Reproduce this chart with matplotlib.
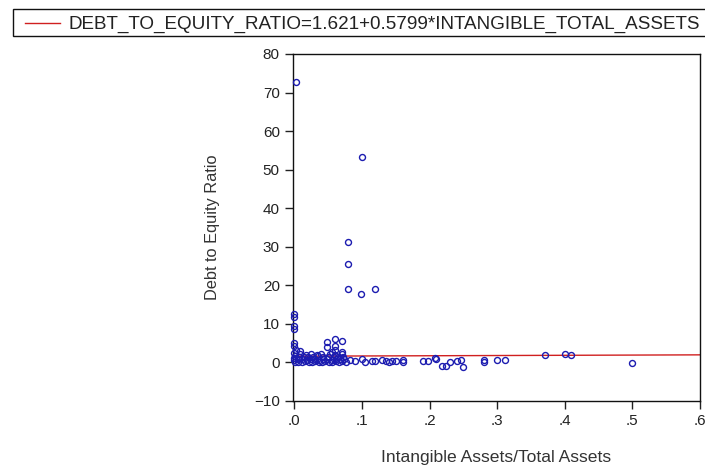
import matplotlib.pyplot as plt
from matplotlib.lines import Line2D
from matplotlib.patches import Rectangle

# intangible assets / total assets  vs  debt to equity ratio
intangible = [
    0.002, 0.000, 0.000, 0.000, 0.000, 0.000, 0.000, 0.002, 0.000, 0.001, 0.000, 0.000, 0.001,
    0.006, 0.011, 0.016, 0.021, 0.026, 0.031, 0.036, 0.041, 0.046, 0.051, 0.056, 0.061, 0.066, 0.071, 0.076,
    0.005, 0.012, 0.018, 0.024, 0.030, 0.037, 0.043, 0.049, 0.055, 0.062, 0.068, 0.074,
    0.007, 0.014, 0.020, 0.028, 0.035, 0.042, 0.050, 0.058, 0.065, 0.072,
    0.008, 0.017, 0.025, 0.033, 0.040, 0.052, 0.060, 0.070,
    0.048, 0.060, 0.071, 0.048, 0.060, 0.060, 0.055, 0.070, 0.009,
    0.100, 0.079, 0.079, 0.079, 0.099, 0.119,
    0.083, 0.090, 0.100, 0.105, 0.115, 0.120, 0.130, 0.140, 0.145, 0.150, 0.160, 0.160, 0.135,
    0.190, 0.198, 0.208, 0.210, 0.218, 0.225, 0.230, 0.240, 0.247, 0.249,
    0.280, 0.280, 0.300, 0.311, 0.370, 0.400, 0.409, 0.500,
]
debt_equity = [
    72.8, 12.5, 11.8, 9.4, 8.6, 5.0, 4.2, 3.1, 2.4, 1.8, 1.2, 0.6, 0.1,
    0.2, 0.1, 0.3, 0.2, 0.1, 0.3, 0.2, 0.1, 0.3, 0.2, 0.1, 0.3, 0.2, 0.4, 0.1,
    0.8, 0.9, 0.7, 0.8, 0.9, 0.7, 0.8, 0.9, 0.7, 0.8, 0.9, 0.8,
    1.4, 1.5, 1.3, 1.4, 1.6, 1.3, 1.5, 1.4, 1.3, 1.5,
    2.1, 2.0, 2.2, 1.9, 2.1, 2.3, 2.0, 2.1,
    5.3, 6.1, 5.6, 4.0, 4.2, 3.2, 2.8, 2.6, 2.9,
    53.2, 31.2, 25.6, 19.1, 17.7, 19.1,
    0.6, 0.3, 0.8, 0.2, 0.5, 0.3, 0.6, 0.2, 0.5, 0.3, 0.6, 0.1, 0.4,
    0.3, 0.4, 1.2, 1.0, -1.0, -1.0, 0.0, 0.5, 0.7, -1.2,
    0.6, 0.0, 0.7, 0.7, 2.0, 2.3, 2.0, -0.1,
]

intercept = 1.621
slope = 0.5799
fit_x = [0.0, 0.6]
fit_y = [intercept + slope * v for v in fit_x]

x_ticks = [0.0, 0.1, 0.2, 0.3, 0.4, 0.5, 0.6]
x_ticklabels = ['.0', '.1', '.2', '.3', '.4', '.5', '.6']
y_ticks = [-10, 0, 10, 20, 30, 40, 50, 60, 70, 80]
legend_label = 'DEBT_TO_EQUITY_RATIO=1.621+0.5799*INTANGIBLE_TOTAL_ASSETS'

RED = '#d02020'
BLUE = '#1c1cb0'
W, H = 705, 468

plt.rcParams['font.family'] = ['Liberation Sans', 'DejaVu Sans']

fig = plt.figure(figsize=(W / 100, H / 100), dpi=100)
ax = fig.add_axes([293 / W, 1 - 401 / H, 407 / W, 347 / H])

ax.plot(fit_x, fit_y, color=RED, linewidth=1.0, zorder=2)
ax.plot(intangible, debt_equity, linestyle='none', marker='o', markersize=4.3,
        markerfacecolor='none', markeredgecolor=BLUE, markeredgewidth=1.0,
        zorder=3, clip_on=False)

ax.set_xlim(-0.002, 0.6)
ax.set_ylim(-10, 80)
ax.set_xticks(x_ticks)
ax.set_xticklabels(x_ticklabels)
ax.set_yticks(y_ticks)
ax.tick_params(direction='out', length=6, width=1, labelsize=11, colors='#222222',
               labelcolor='#222222')
for s in ax.spines.values():
    s.set_linewidth(1.0)
    s.set_color('#111111')

ax.set_ylabel('Debt to Equity Ratio', fontsize=11.8, color='#333333')
ax.yaxis.set_label_coords((220 - 293) / 407, 0.5)
ax.set_xlabel('Intangible Assets/Total Assets', fontsize=12.6, color='#333333')
ax.xaxis.set_label_coords(0.5, -0.14)

# legend box at the top, drawn by hand (it runs off the right edge)
fig.patches.append(Rectangle((12.5 / W, 1 - 36 / H), 720 / W, 26.5 / H,
                             transform=fig.transFigure, facecolor='white',
                             edgecolor='#111111', linewidth=1.0))
fig.lines.append(Line2D([25 / W, 60 / W], [1 - 22.5 / H, 1 - 22.5 / H],
                        transform=fig.transFigure, color=RED, linewidth=1.0))
fig.text(68 / W, 1 - 22.5 / H, legend_label, fontsize=13.6, color='#222222',
         ha='left', va='center_baseline')

fig.savefig('out.png', dpi=100)
